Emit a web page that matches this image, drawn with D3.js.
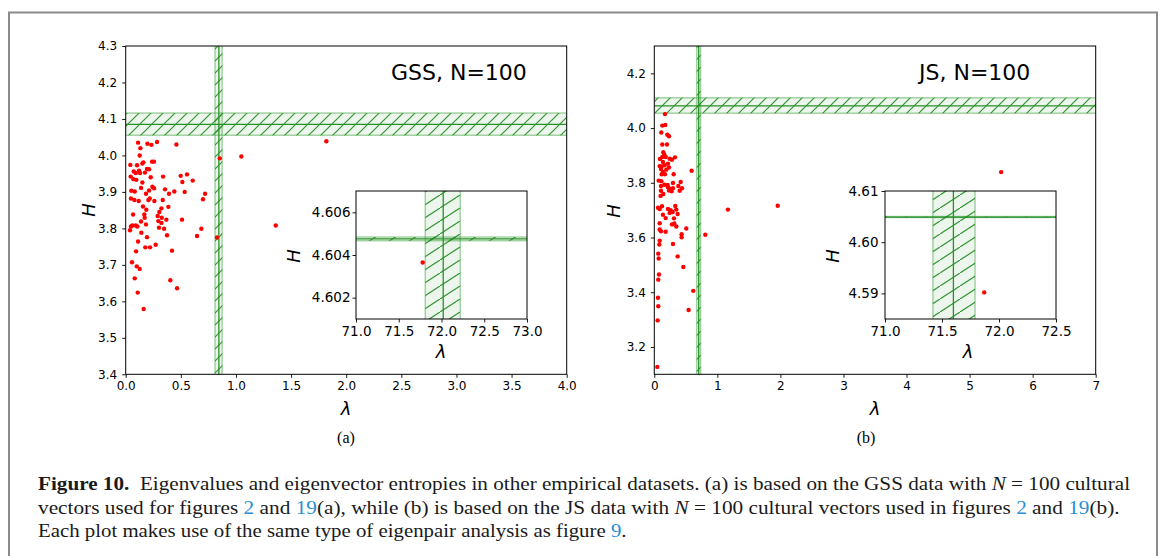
<!DOCTYPE html>
<html>
<head>
<meta charset="utf-8">
<script src="https://cdn.jsdelivr.net/npm/d3@7"></script>
<style>
  body { margin: 0; background: #fff; }
  svg { display: block; }
</style>
</head>
<body>
<svg id="fig" width="1167" height="556"></svg>
<script>
// ---- GSS, N=100: eigenvalue (lambda) vs eigenvector entropy (H) ----
const gssLambda = [0.112,0.197,0.233,0.284,0.460,0.133,0.127,0.042,0.103,0.151,0.160,0.239,0.257,0.193,0.212,0.073,0.091,0.130,0.175,0.045,0.070,0.097,0.227,0.151,0.339,0.499,0.556,0.608,0.514,0.139,0.242,0.257,0.212,0.357,0.441,0.535,0.051,0.082,0.184,0.393,0.720,0.048,0.079,0.118,0.206,0.218,0.336,0.260,0.701,0.157,0.387,0.324,0.305,0.290,0.169,0.172,0.327,0.369,0.511,0.067,0.296,0.324,0.184,0.091,0.060,0.106,0.048,0.039,0.302,0.348,0.686,0.647,0.375,0.193,0.142,0.112,0.828,0.272,0.178,0.221,0.094,0.420,0.057,0.100,0.127,0.082,0.405,0.109,0.466,0.163,0.853,1.049,1.361,1.820,0.121,0.187,0.139];
const gssH = [4.035,4.032,4.029,4.037,4.030,4.020,4.000,3.974,3.973,3.978,3.981,3.983,3.983,3.963,3.962,3.956,3.952,3.952,3.953,3.942,3.935,3.933,3.940,3.926,3.942,3.944,3.948,3.931,3.927,3.911,3.914,3.910,3.904,3.907,3.901,3.900,3.903,3.901,3.895,3.895,3.895,3.882,3.878,3.875,3.878,3.882,3.878,3.875,3.880,3.860,3.859,3.855,3.845,3.834,3.838,3.829,3.829,3.824,3.824,3.838,3.820,3.815,3.811,3.808,3.808,3.805,3.805,3.795,3.802,3.799,3.799,3.779,3.781,3.776,3.788,3.764,3.775,3.755,3.748,3.748,3.737,3.739,3.707,3.696,3.689,3.663,3.658,3.624,3.636,3.579,3.992,3.997,3.808,4.039,3.958,3.851,3.819];
const gssTopLambda = [71.78];
const gssTopH = [4.60365];
// null-model bands: [low, mean, high]
const gssLambdaBand = [0.81, 0.845, 0.875];
const gssHBand = [4.055, 4.085, 4.116];
const gssTopLambdaBand = [71.81, 72.02, 72.22];
const gssTopHBand = [4.60467, 4.60476, 4.60484];

// ---- JS, N=100 ----
const jsLambda = [0.169,0.127,0.174,0.111,0.206,0.233,0.127,0.201,0.143,0.159,0.127,0.090,0.180,0.243,0.328,0.280,0.137,0.217,0.085,0.116,0.164,0.233,0.106,0.190,0.137,0.116,0.169,0.307,0.592,0.069,0.111,0.159,0.211,0.296,0.418,0.106,0.217,0.381,0.439,0.248,0.296,0.106,0.233,0.275,0.402,0.100,0.058,0.085,0.122,0.217,0.259,0.291,0.349,0.370,0.333,0.137,0.180,0.085,0.280,0.317,0.349,0.507,0.085,0.106,0.180,0.433,0.433,0.085,0.079,0.296,0.063,0.069,0.370,0.460,0.074,0.063,0.618,0.058,0.063,0.544,0.053,0.048,0.809,1.168,1.957,5.50,0.143,0.243,0.312];
const jsH = [4.051,4.009,4.011,3.984,3.976,3.970,3.940,3.940,3.912,3.903,3.894,3.887,3.894,3.888,3.893,3.884,3.876,3.870,3.861,3.860,3.864,3.856,3.850,3.848,3.840,3.831,3.831,3.831,3.844,3.808,3.806,3.793,3.792,3.799,3.803,3.788,3.784,3.788,3.780,3.778,3.780,3.771,3.772,3.769,3.771,3.752,3.709,3.704,3.714,3.704,3.700,3.693,3.702,3.686,3.715,3.683,3.671,3.652,3.648,3.651,3.640,3.633,3.629,3.623,3.621,3.612,3.601,3.588,3.574,3.576,3.541,3.523,3.531,3.492,3.465,3.446,3.405,3.380,3.349,3.335,3.297,3.127,3.610,3.702,3.716,3.839,3.759,3.690,3.670];
const jsTopLambda = [71.87];
const jsTopH = [4.5902];
const jsLambdaBand = [0.672, 0.704, 0.735];
const jsHBand = [4.054, 4.081, 4.111];
const jsTopLambdaBand = [71.42, 71.60, 71.79];
const jsTopHBand = [4.6048, 4.6049, 4.6050];

// ---- tick values ----
const gssXTicks = [0, 0.5, 1, 1.5, 2, 2.5, 3, 3.5, 4];
const gssYTicks = [3.4, 3.5, 3.6, 3.7, 3.8, 3.9, 4.0, 4.1, 4.2, 4.3];
const gssInsetXTicks = [71, 71.5, 72, 72.5, 73];
const gssInsetYTicks = [4.602, 4.604, 4.606];
const jsXTicks = [0, 1, 2, 3, 4, 5, 6, 7];
const jsYTicks = [3.2, 3.4, 3.6, 3.8, 4.0, 4.2];
const jsInsetXTicks = [71, 71.5, 72, 72.5];
const jsInsetYTicks = [4.59, 4.60, 4.61];

// ---- text ----
const panelTitles = ["GSS, N=100", "JS, N=100"];
const panelTags = ["(a)", "(b)"];

const svg = d3.select("#fig");
const FONT = "DejaVu Sans, sans-serif";
const GREEN = "#1f8a1f";

// hatch patterns for the null-model bands
const defs = svg.append("defs");
defs.append("pattern").attr("id", "hatchMain")
  .attr("patternUnits", "userSpaceOnUse").attr("width", 12).attr("height", 12)
  .append("path").attr("d", "M-3,3 L3,-3 M0,12 L12,0 M9,15 L15,9")
  .attr("stroke", GREEN).attr("stroke-width", 1.2).attr("fill", "none");
defs.append("pattern").attr("id", "hatchInset")
  .attr("patternUnits", "userSpaceOnUse").attr("width", 20).attr("height", 13)
  .append("path").attr("d", "M-2,14.3 L22,-1.3")
  .attr("stroke", GREEN).attr("stroke-width", 1.2).attr("fill", "none");

// figure frame
svg.append("rect").attr("x", 9).attr("y", 12.5).attr("width", 1148).attr("height", 560)
  .attr("fill", "none").attr("stroke", "#8a8a8a").attr("stroke-width", 2);

let clipId = 0;
function drawAxes(cfg) {
  const { left, top, width, height, xDomain, yDomain, xTicks, yTicks, xFmt, yFmt,
          fontSize, lambdaX, lambdaBaseline, hX, hY, labelSize, hatch,
          lambdaVals, hVals, lambdaBand, hBand, background, yPad } = cfg;
  const g = svg.append("g");
  const x = d3.scaleLinear().domain(xDomain).range([left, left + width]);
  const y = d3.scaleLinear().domain(yDomain).range([top + height, top]);

  if (background) {
    g.append("rect").attr("x", left).attr("y", top).attr("width", width).attr("height", height)
      .attr("fill", "#fff");
  }

  const cid = "clip" + (clipId++);
  g.append("clipPath").attr("id", cid).append("rect")
    .attr("x", left).attr("y", top).attr("width", width).attr("height", height);
  const plot = g.append("g").attr("clip-path", `url(#${cid})`);

  // horizontal band (entropy range) and vertical band (eigenvalue range)
  const hb = plot.append("g");
  const hy0 = y(hBand[2]), hy1 = y(hBand[0]);
  hb.append("rect").attr("x", left).attr("width", width).attr("y", hy0).attr("height", Math.max(hy1 - hy0, 0.5))
    .attr("fill", "rgba(0,128,0,0.07)");
  hb.append("rect").attr("x", left).attr("width", width).attr("y", hy0).attr("height", Math.max(hy1 - hy0, 0.5))
    .attr("fill", `url(#${hatch})`).attr("opacity", 0.9);
  [hBand[0], hBand[2]].forEach(v => hb.append("line")
    .attr("x1", left).attr("x2", left + width).attr("y1", y(v)).attr("y2", y(v))
    .attr("stroke", "rgba(40,150,40,0.4)").attr("stroke-width", 1.5));
  hb.append("line").attr("x1", left).attr("x2", left + width)
    .attr("y1", y(hBand[1])).attr("y2", y(hBand[1]))
    .attr("stroke", "#2a922a").attr("stroke-width", 1.3);

  const vb = plot.append("g");
  const vx0 = x(lambdaBand[0]), vx1 = x(lambdaBand[2]);
  vb.append("rect").attr("x", vx0).attr("width", vx1 - vx0).attr("y", top).attr("height", height)
    .attr("fill", "rgba(0,128,0,0.07)");
  vb.append("rect").attr("x", vx0).attr("width", vx1 - vx0).attr("y", top).attr("height", height)
    .attr("fill", `url(#${hatch})`).attr("opacity", 0.9);
  [lambdaBand[0], lambdaBand[2]].forEach(v => vb.append("line")
    .attr("x1", x(v)).attr("x2", x(v)).attr("y1", top).attr("y2", top + height)
    .attr("stroke", "rgba(40,150,40,0.4)").attr("stroke-width", 1.5));
  vb.append("line").attr("x1", x(lambdaBand[1])).attr("x2", x(lambdaBand[1]))
    .attr("y1", top).attr("y2", top + height)
    .attr("stroke", "#2a922a").attr("stroke-width", 1.3);

  // eigenpairs
  plot.append("g").selectAll("circle").data(d3.range(lambdaVals.length)).join("circle")
    .attr("cx", i => x(lambdaVals[i])).attr("cy", i => y(hVals[i])).attr("r", 2.2)
    .attr("fill", "#ff0000");

  // axes
  const ax = g.append("g").attr("transform", `translate(0,${top + height})`)
    .call(d3.axisBottom(x).tickValues(xTicks).tickFormat(d3.format(xFmt))
      .tickSize(3.5).tickPadding(3.5).tickSizeOuter(0));
  const ay = g.append("g").attr("transform", `translate(${left},0)`)
    .call(d3.axisLeft(y).tickValues(yTicks).tickFormat(d3.format(yFmt))
      .tickSize(3.5).tickPadding(yPad).tickSizeOuter(0));
  [ax, ay].forEach(a => {
    a.attr("font-family", FONT).attr("font-size", fontSize);
    a.select(".domain").remove();
    a.selectAll("line").attr("stroke", "#000").attr("stroke-width", 0.9);
    a.selectAll("text").attr("fill", "#000");
  });

  g.append("rect").attr("x", left).attr("y", top).attr("width", width).attr("height", height)
    .attr("fill", "none").attr("stroke", "#000").attr("stroke-width", 1);

  g.append("text").attr("x", lambdaX).attr("y", lambdaBaseline).attr("text-anchor", "middle")
    .attr("font-family", FONT).attr("font-style", "italic").attr("font-size", labelSize)
    .text("λ");
  g.append("text").attr("transform", `translate(${hX},${hY}) rotate(-90)`)
    .attr("text-anchor", "middle").attr("dominant-baseline", "central")
    .attr("font-family", FONT).attr("font-style", "italic").attr("font-size", labelSize)
    .text("H");
  return g;
}

// (a) GSS
drawAxes({ left: 125.7, top: 46, width: 441, height: 328.3,
  xDomain: [0, 4], yDomain: [3.4, 4.3], xTicks: gssXTicks, yTicks: gssYTicks,
  xFmt: ".1f", yFmt: ".1f", fontSize: 12, yPad: 5,
  lambdaX: 346, lambdaBaseline: 415, hX: 88, hY: 210, labelSize: 18,
  hatch: "hatchMain", lambdaVals: gssLambda, hVals: gssH,
  lambdaBand: gssLambdaBand, hBand: gssHBand });
svg.append("text").attr("x", 391).attr("y", 79.5)
  .attr("font-family", FONT).attr("font-size", 22).text(panelTitles[0]);
drawAxes({ left: 356, top: 191, width: 171, height: 128,
  xDomain: [71, 73], yDomain: [4.601, 4.607], xTicks: gssInsetXTicks, yTicks: gssInsetYTicks,
  xFmt: ".1f", yFmt: ".3f", fontSize: 13.5, yPad: 2,
  lambdaX: 441, lambdaBaseline: 358, hX: 293, hY: 256, labelSize: 18,
  hatch: "hatchInset", lambdaVals: gssTopLambda, hVals: gssTopH,
  lambdaBand: gssTopLambdaBand, hBand: gssTopHBand, background: true });

// (b) JS
drawAxes({ left: 654.3, top: 46, width: 441.4, height: 328.3,
  xDomain: [0, 7], yDomain: [3.1, 4.3], xTicks: jsXTicks, yTicks: jsYTicks,
  xFmt: "d", yFmt: ".1f", fontSize: 12, yPad: 5,
  lambdaX: 875, lambdaBaseline: 415, hX: 613, hY: 211, labelSize: 18,
  hatch: "hatchMain", lambdaVals: jsLambda, hVals: jsH,
  lambdaBand: jsLambdaBand, hBand: jsHBand });
svg.append("text").attr("x", 919).attr("y", 79.5)
  .attr("font-family", FONT).attr("font-size", 22).text(panelTitles[1]);
drawAxes({ left: 885, top: 191, width: 171, height: 128,
  xDomain: [71, 72.5], yDomain: [4.585, 4.61], xTicks: jsInsetXTicks, yTicks: jsInsetYTicks,
  xFmt: ".1f", yFmt: ".2f", fontSize: 13.5, yPad: 3,
  lambdaX: 968, lambdaBaseline: 358, hX: 832, hY: 256, labelSize: 18,
  hatch: "hatchInset", lambdaVals: jsTopLambda, hVals: jsTopH,
  lambdaBand: jsTopLambdaBand, hBand: jsTopHBand, background: true });

// sub-figure tags
const SERIF = "Liberation Serif, DejaVu Serif, serif";
svg.append("text").attr("x", 346).attr("y", 443).attr("text-anchor", "middle")
  .attr("font-family", SERIF).attr("font-size", 16).text(panelTags[0]);
svg.append("text").attr("x", 866).attr("y", 443).attr("text-anchor", "middle")
  .attr("font-family", SERIF).attr("font-size", 16).text(panelTags[1]);

// caption, each line squeezed to its column width
const BLUE = "#2b8fd1";
const captionLines = [
  { y: 490, w: 1093, parts: [
    ["Figure 10.", "b"], ["  Eigenvalues and eigenvector entropies in other empirical datasets. (a) is based on the GSS data with "],
    ["N", "i"], [" = 100 cultural"] ] },
  { y: 514, w: 1082, parts: [
    ["vectors used for figures "], ["2", "l"], [" and "], ["19", "l"], ["(a), while (b) is based on the JS data with "],
    ["N", "i"], [" = 100 cultural vectors used in figures "], ["2", "l"], [" and "], ["19", "l"], ["(b)."] ] },
  { y: 537, w: 589, parts: [
    ["Each plot makes use of the same type of eigenpair analysis as figure "], ["9", "l"], ["."] ] }
];
captionLines.forEach(line => {
  const t = svg.append("text").attr("x", 0).attr("y", 0)
    .attr("font-family", SERIF).attr("font-size", 18).attr("fill", "#1a1a1a")
    .attr("xml:space", "preserve").style("white-space", "pre");
  line.parts.forEach(([s, k]) => {
    const sp = t.append("tspan").text(s);
    if (k === "b") sp.attr("font-weight", "bold");
    if (k === "i") sp.attr("font-style", "italic");
    if (k === "l") sp.attr("fill", BLUE);
  });
  const len = t.node().getComputedTextLength();
  t.attr("transform", `translate(38,${line.y}) scale(${line.w / len},1)`);
});
</script>
</body>
</html>
